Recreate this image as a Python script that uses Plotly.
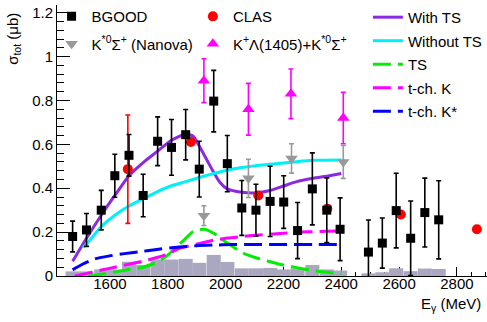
import plotly.graph_objects as go

# ---------------- data ----------------
bgood_E = [1471, 1519, 1570, 1617, 1666, 1715, 1765, 1813, 1862, 1909, 1959, 2006, 2056, 2105,
           2154, 2201, 2249, 2300, 2350, 2396, 2494, 2542, 2590, 2640, 2689, 2737]
bgood_sig = [0.18, 0.21, 0.30, 0.457, 0.55, 0.367, 0.614, 0.586, 0.644, 0.487, 0.797, 0.512, 0.31, 0.30,
             0.34, 0.337, 0.207, 0.397, 0.30, 0.213, 0.109, 0.15, 0.298, 0.172, 0.289, 0.256]
bgood_err = [0.07, 0.075, 0.09, 0.098, 0.095, 0.097, 0.111, 0.127, 0.115, 0.127, 0.14, 0.128, 0.125, 0.118,
             0.16, 0.12, 0.128, 0.164, 0.147, 0.143, 0.146, 0.114, 0.17, 0.17, 0.157, 0.178]

clas_E = [1662, 1880, 2113, 2352, 2606, 2869]
clas_sig = [0.487, 0.611, 0.367, 0.307, 0.28, 0.213]
clas_err = [0.247, 0, 0, 0, 0, 0]

nanova_E = [1925, 2079, 2228, 2407]
nanova_sig = [0.275, 0.445, 0.536, 0.52]
nanova_err = [0.045, 0.087, 0.067, 0.075]

kl_E = [1925, 2079, 2226, 2407]
kl_sig = [0.89, 0.76, 0.83, 0.72]
kl_err = [0.1, 0.118, 0.113, 0.117]

hist_E = [1471, 1519, 1570, 1617, 1666, 1715, 1765, 1813, 1862, 1909, 1959, 2006, 2056, 2105,
          2154, 2201, 2249, 2300, 2350, 2396, 2494, 2542, 2590, 2640, 2689, 2737]
hist_val = [0.021, 0.021, 0.03, 0.03, 0.065, 0.05, 0.075, 0.075, 0.078, 0.06, 0.096, 0.064, 0.035, 0.035,
            0.037, 0.03, 0.035, 0.05, 0.03, 0.025, 0.012, 0.017, 0.035, 0.022, 0.034, 0.032]

withts_E = [1471, 1519, 1570, 1617, 1666, 1715, 1765, 1813, 1862, 1888, 1909, 1934, 1959, 1980,
            2006, 2056, 2105, 2154, 2200, 2246, 2303, 2350, 2400]
withts_sig = [0.067, 0.172, 0.277, 0.367, 0.457, 0.517, 0.569, 0.619, 0.647, 0.637, 0.592, 0.532, 0.472, 0.427,
              0.397, 0.382, 0.379, 0.39, 0.41, 0.43, 0.445, 0.455, 0.467]

without_E = [1507, 1519, 1570, 1617, 1666, 1715, 1765, 1808, 1862, 1909, 1959, 2006, 2056, 2105,
             2154, 2246, 2303, 2400]
without_sig = [0.13, 0.145, 0.225, 0.277, 0.319, 0.352, 0.385, 0.409, 0.43, 0.449, 0.467, 0.482, 0.494, 0.503,
               0.509, 0.521, 0.527, 0.529]

ts_E = [1525, 1570, 1617, 1666, 1715, 1765, 1802, 1825, 1853, 1888, 1925, 1959, 2006, 2060, 2105,
        2154, 2200, 2250, 2300, 2350, 2400]
ts_sig = [0.0, 0.008, 0.018, 0.03, 0.04, 0.065, 0.097, 0.127, 0.16, 0.203, 0.213, 0.195, 0.15, 0.105, 0.083,
          0.065, 0.05, 0.037, 0.025, 0.017, 0.01]

tk_E = [1479, 1520, 1571, 1617, 1663, 1715, 1756, 1800, 1838, 1900, 1959, 2006, 2056, 2105, 2154, 2200,
        2250, 2300, 2350, 2400]
tk_sig = [0.0, 0.012, 0.027, 0.04, 0.053, 0.068, 0.082, 0.1, 0.125, 0.145, 0.163, 0.173, 0.18, 0.186, 0.19,
          0.195, 0.2, 0.202, 0.204, 0.205]

tks_E = [1471, 1500, 1548, 1600, 1650, 1700, 1756, 1840, 1900, 1960, 2020, 2100, 2200, 2300, 2400]
tks_sig = [0.028, 0.05, 0.078, 0.092, 0.102, 0.11, 0.12, 0.132, 0.138, 0.141, 0.143, 0.143, 0.143, 0.143, 0.143]

xticks = [1600, 1800, 2000, 2200, 2400, 2600, 2800]

# ---------------- figure ----------------
FONT = "Liberation Sans, Arial, Helvetica, sans-serif"
fig = go.Figure()

fig.add_trace(go.Bar(x=hist_E, y=hist_val, width=48.7, marker=dict(color="#aaa7c0", line_width=0),
                     showlegend=False, hoverinfo="skip"))

dash = "18px,7px"
curves = [
    (withts_E, withts_sig, "With TS", "#8a2be2", "solid"),
    (without_E, without_sig, "Without TS", "#00f0f8", "solid"),
    (ts_E, ts_sig, "TS", "#00ee00", dash),
    (tk_E, tk_sig, "t-ch. K", "#ff00ff", dash),
    (tks_E, tks_sig, "t-ch. K*", "#0000ff", dash),
]
for i, (xe, ye, name, col, dsh) in enumerate(curves):
    fig.add_trace(go.Scatter(x=xe, y=ye, mode="lines", name=name,
                             line=dict(color=col, width=3, dash=dsh, shape="spline", smoothing=0.6),
                             legend="legend", legendgroup="c%d" % i, legendrank=100 + i))

def pts(xe, ye, err, name, col, sym, size, leg, rank):
    return go.Scatter(x=xe, y=ye, mode="markers", name=name,
                      marker=dict(color=col, symbol=sym, size=size, line_width=0),
                      error_y=dict(type="data", array=err, color=col, thickness=1.6, width=2.5),
                      legend=leg, legendgroup=name, legendrank=rank)

fig.add_trace(pts(clas_E, clas_sig, clas_err, "CLAS", "#ff0000", "circle", 10, "legend3", 1))
fig.add_trace(pts(kl_E, kl_sig, kl_err, "K<sup>+</sup>Λ(1405)+K<sup>*0</sup>Σ<sup>+</sup>",
                  "#ff00ff", "triangle-up", 11, "legend3", 2))
fig.add_trace(pts(nanova_E, nanova_sig, nanova_err, "K<sup>*0</sup>Σ<sup>+</sup> (Nanova)",
                  "#999999", "triangle-down", 11, "legend2", 2))
fig.add_trace(pts(bgood_E, bgood_sig, bgood_err, "BGOOD", "#000000", "square", 9, "legend2", 1))

legfont = dict(family=FONT, size=15, color="black")
common_leg = dict(font=legfont, bgcolor="rgba(0,0,0,0)", borderwidth=0, xanchor="left", yanchor="top",
                  traceorder="grouped", itemsizing="trace")

fig.update_layout(
    width=487, height=322,
    margin=dict(l=57, r=0, t=0, b=46),
    paper_bgcolor="white", plot_bgcolor="white",
    font=dict(family=FONT, size=15, color="black"),
    showlegend=True,
    legend=dict(x=0.723, y=1.015, tracegroupgap=1, **common_leg),
    legend2=dict(x=-0.0126, y=1.018, tracegroupgap=5, **common_leg),
    legend3=dict(x=0.316, y=1.018, tracegroupgap=5, **common_leg),
    xaxis=dict(range=[1417, 2904], showline=True, linecolor="black", linewidth=1,
               ticks="inside", ticklen=9, tickwidth=1, tickcolor="black",
               tickvals=xticks, ticktext=[str(v) for v in xticks], ticklabelstandoff=-6,
               minor=dict(dtick=50, tick0=1400, ticks="inside", ticklen=4.5, tickcolor="black", tickwidth=1),
               showgrid=False, zeroline=False, layer="below traces",
               tickfont=dict(family=FONT, size=15, color="black")),
    yaxis=dict(range=[0, 1.235], showline=True, linecolor="black", linewidth=1,
               ticks="inside", ticklen=13, tickwidth=1, tickcolor="black", dtick=0.2, tick0=0,
               minor=dict(dtick=0.04, tick0=0, ticks="inside", ticklen=6.5, tickcolor="black", tickwidth=1),
               showgrid=False, zeroline=False, layer="below traces",
               tickfont=dict(family=FONT, size=15, color="black")),
    annotations=[
        dict(text="E<sub>γ</sub> (MeV)", xref="paper", yref="paper", x=(483 - 57) / 430, y=(276 - 305) / 276,
             xanchor="right", yanchor="middle", showarrow=False, font=dict(family=FONT, size=15)),
        dict(text="σ<sub>tot</sub> (μb)", xref="paper", yref="paper", x=(13.5 - 57) / 430, y=(276 - 35) / 276,
             xanchor="center", yanchor="middle", textangle=-90, showarrow=False, font=dict(family=FONT, size=15)),
    ],
)

fig.write_html("out.html")
